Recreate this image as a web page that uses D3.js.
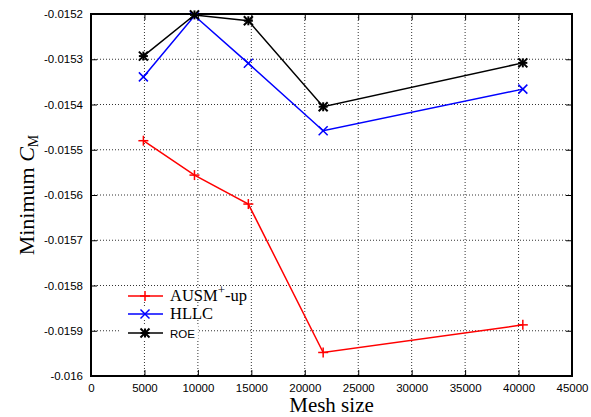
<!DOCTYPE html>
<html>
<head>
<meta charset="utf-8">
<script src="https://cdn.jsdelivr.net/npm/d3@7"></script>
<style>
  html, body { margin: 0; padding: 0; background: #fff; }
  svg { display: block; }
</style>
</head>
<body>
<svg id="chart" width="591" height="417"></svg>
<script>
// values
const meshSize = [4900, 9680, 14720, 21720, 40400];
const ausm = [-0.01548, -0.015556, -0.01562, -0.015948, -0.015887];
const hllc = [-0.015339, -0.015204, -0.015309, -0.015458, -0.015366];
const roe  = [-0.015293, -0.015202, -0.015215, -0.015405, -0.015308];

const xTicks = [0, 5000, 10000, 15000, 20000, 25000, 30000, 35000, 40000, 45000];
const yTicks = [-0.0152, -0.0153, -0.0154, -0.0155, -0.0156, -0.0157, -0.0158, -0.0159, -0.016];

const series = [
  { name: "AUSM", values: ausm, color: "#ff0000", marker: "plus" },
  { name: "HLLC", values: hllc, color: "#0000ff", marker: "cross" },
  { name: "ROE",  values: roe,  color: "#000000", marker: "star" }
];

const svg = d3.select("#chart");
const margin = { top: 14, right: 19, bottom: 41, left: 91 };
const width = 591 - margin.left - margin.right;
const height = 417 - margin.top - margin.bottom;

const g = svg.append("g").attr("transform", `translate(${margin.left},${margin.top})`);

const x = d3.scaleLinear().domain([0, 45000]).range([0, width]);
const y = d3.scaleLinear().domain([-0.016, -0.0152]).range([height, 0]);

// grid
g.append("g").selectAll("line")
  .data(xTicks.slice(1, -1))
  .enter().append("line")
  .attr("x1", d => x(d)).attr("x2", d => x(d))
  .attr("y1", 0).attr("y2", height)
  .attr("stroke", "#333").attr("stroke-width", 1)
  .attr("stroke-dasharray", "1,2");

g.append("g").selectAll("line")
  .data(yTicks.slice(1, -1))
  .enter().append("line")
  .attr("x1", 0).attr("x2", width)
  .attr("y1", d => y(d)).attr("y2", d => y(d))
  .attr("stroke", "#333").attr("stroke-width", 1)
  .attr("stroke-dasharray", "1,2");

// axes, ticks drawn inward and mirrored
const tickLen = 6;
const bottomAxis = g.append("g")
  .attr("transform", `translate(0,${height})`)
  .call(d3.axisBottom(x).tickValues(xTicks).tickSize(-tickLen).tickPadding(8).tickFormat(d3.format("d")));
const topAxis = g.append("g")
  .call(d3.axisTop(x).tickValues(xTicks).tickSize(-tickLen).tickFormat(""));
const leftAxis = g.append("g")
  .call(d3.axisLeft(y).tickValues(yTicks).tickSize(-tickLen).tickPadding(8).tickFormat(d => String(d)));
const rightAxis = g.append("g")
  .attr("transform", `translate(${width},0)`)
  .call(d3.axisRight(y).tickValues(yTicks).tickSize(-tickLen).tickFormat(""));

[bottomAxis, topAxis, leftAxis, rightAxis].forEach(a => {
  a.select(".domain").remove();
  a.selectAll(".tick line").attr("stroke", "#000").attr("stroke-width", 1);
  a.selectAll("text")
    .style("font-family", "'Liberation Sans', Arial, sans-serif")
    .style("font-size", "11.5px")
    .attr("fill", "#000");
});

// frame
g.append("rect")
  .attr("x", 0).attr("y", 0)
  .attr("width", width).attr("height", height)
  .attr("fill", "none")
  .attr("stroke", "#000")
  .attr("stroke-width", 2);

// marker drawing
function drawMarker(sel, type, color, s) {
  if (type === "plus" || type === "star") {
    sel.append("line").attr("x1", -s).attr("x2", s).attr("y1", 0).attr("y2", 0);
    sel.append("line").attr("x1", 0).attr("x2", 0).attr("y1", -s).attr("y2", s);
  }
  if (type === "cross" || type === "star") {
    sel.append("line").attr("x1", -s).attr("x2", s).attr("y1", -s).attr("y2", s);
    sel.append("line").attr("x1", -s).attr("x2", s).attr("y1", s).attr("y2", -s);
  }
  sel.selectAll("line").attr("stroke", color).attr("stroke-width", type === "star" ? 2 : 1.5);
}

const line = d3.line()
  .x((d, i) => x(meshSize[i]))
  .y(d => y(d));

series.forEach(s => {
  g.append("path")
    .datum(s.values)
    .attr("fill", "none")
    .attr("stroke", s.color)
    .attr("stroke-width", 1.5)
    .attr("d", line);
  g.selectAll(null)
    .data(s.values)
    .enter().append("g")
    .attr("transform", (d, i) => `translate(${x(meshSize[i])},${y(d)})`)
    .each(function() {
      drawMarker(d3.select(this), s.marker, s.color, s.marker === "plus" ? 5 : 4.5);
    });
});

// legend
const legend = svg.append("g");
const legendRows = [
  { y: 296, series: series[0] },
  { y: 314, series: series[1] },
  { y: 333, series: series[2] }
];
legendRows.forEach(r => {
  const row = legend.append("g").attr("transform", `translate(0,${r.y})`);
  const bg = row.append("rect").attr("fill", "#fff");
  row.append("line")
    .attr("x1", 128).attr("x2", 163).attr("y1", 0).attr("y2", 0)
    .attr("stroke", r.series.color).attr("stroke-width", 1.5);
  const mk = row.append("g").attr("transform", "translate(145,0)");
  drawMarker(mk, r.series.marker, r.series.color, r.series.marker === "plus" ? 5 : 4.5);
  let txt;
  if (r.series.name === "AUSM") {
    txt = row.append("text").attr("x", 170).attr("y", 5)
      .style("font-family", "'Liberation Serif', 'Times New Roman', serif")
      .style("font-size", "16.5px");
    txt.append("tspan").text("AUSM");
    txt.append("tspan").attr("dy", -7).style("font-size", "13px").text("+");
    txt.append("tspan").attr("dy", 7).text("-up");
  } else if (r.series.name === "HLLC") {
    txt = row.append("text").attr("x", 170).attr("y", 5)
      .style("font-family", "'Liberation Serif', 'Times New Roman', serif")
      .style("font-size", "16.5px")
      .text("HLLC");
  } else {
    txt = row.append("text").attr("x", 170).attr("y", 5)
      .style("font-family", "'Liberation Sans', Arial, sans-serif")
      .style("font-size", "11.5px")
      .text("ROE");
  }
  const w = txt.node().getComputedTextLength();
  bg.attr("x", 121).attr("y", -7).attr("width", 170 + w + 3 - 121).attr("height", 13);
});

// axis titles
svg.append("text")
  .attr("x", margin.left + width / 2)
  .attr("y", 412)
  .attr("text-anchor", "middle")
  .style("font-family", "'Liberation Serif', 'Times New Roman', serif")
  .style("font-size", "21px")
  .text("Mesh size");

const yTitle = svg.append("text")
  .attr("transform", `translate(34,${margin.top + height / 2}) rotate(-90)`)
  .attr("text-anchor", "middle")
  .style("font-family", "'Liberation Serif', 'Times New Roman', serif")
  .style("font-size", "22px");
yTitle.append("tspan").text("Minimum ");
yTitle.append("tspan").style("font-style", "italic").text("C");
yTitle.append("tspan").attr("dy", 4).style("font-size", "14px").text("M");
</script>
</body>
</html>
